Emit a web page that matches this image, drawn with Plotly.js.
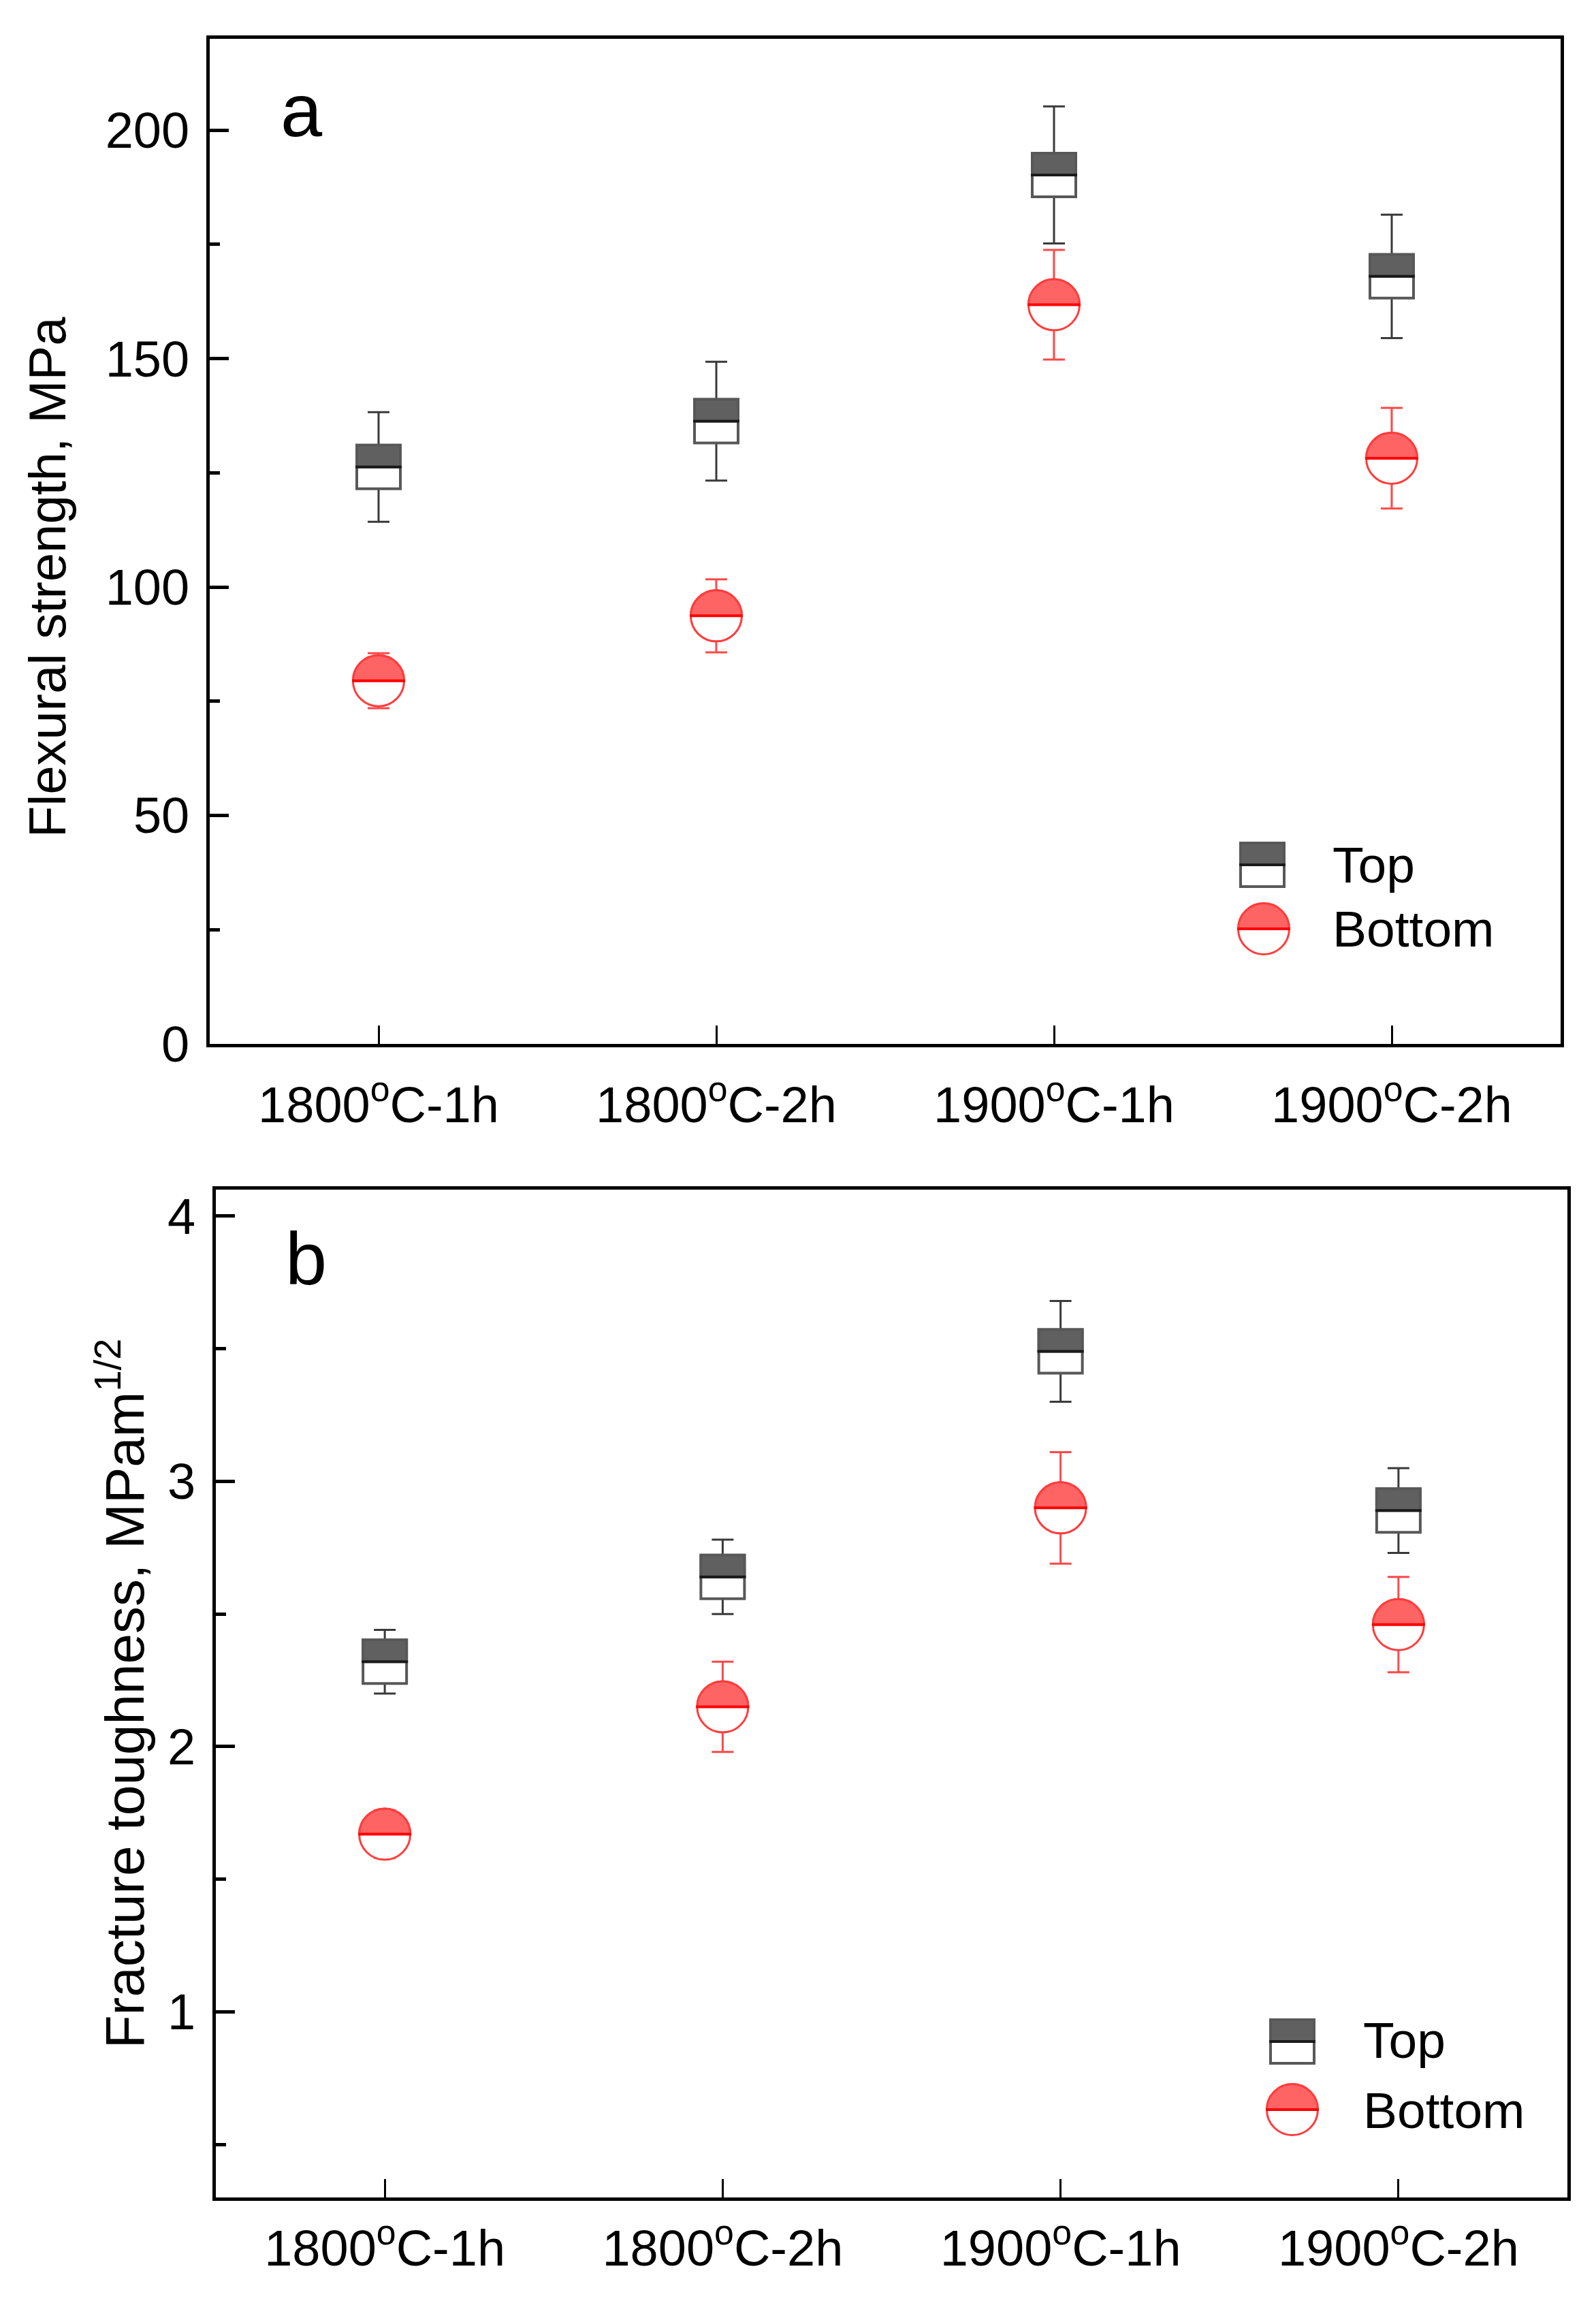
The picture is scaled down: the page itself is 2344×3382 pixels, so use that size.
<!DOCTYPE html>
<html><head><meta charset="utf-8">
<script src="https://cdn.plot.ly/plotly-3.0.1.min.js"></script>
<style>body{margin:0;background:#fff}</style>
</head><body><div id="chart" style="width:2344px;height:3382px"></div>
<script>
// ---- data ----
const categories = ['1800°C-1h', '1800°C-2h', '1900°C-1h', '1900°C-2h'];
const tickLabels = ['1800<sup>o</sup>C-1h', '1800<sup>o</sup>C-2h', '1900<sup>o</sup>C-1h', '1900<sup>o</sup>C-2h'];
const seriesNames = ['Top', 'Bottom'];
const yTitles = ['Flexural strength, MPa', 'Fracture toughness, MPam<sup>1/2</sup>'];
const strengthTop = [126.3, 136.3, 190.2, 168.0];
const strengthTopErr = [12, 13, 15, 13.5];
const strengthBottom = [79.5, 93.7, 161.8, 128.2];
const strengthBottomErr = [6, 8, 12, 11];
const toughTop = [2.32, 2.64, 3.49, 2.89];
const toughTopErr = [0.12, 0.14, 0.19, 0.16];
const toughBottom = [1.67, 2.15, 2.90, 2.46];
const toughBottomErr = [0.09, 0.17, 0.21, 0.18];

// ---- styles ----
const W = 2344, H = 3382;
const FONT = 'Liberation Sans, Arial, sans-serif';
const topFill = '#606060', topEdge = '#585858', topMid = '#1a1a1a', topErr = '#3a3a3a';
const botFill = '#ff6464', botEdge = '#ff3c3c', botMid = '#ff0000', botErr = '#ff4848';
const SQ = 64, CR = 37.5;

function upperHalf(R) {
  const k = 0.5523 * R;
  return `M ${-R},0 C ${-R},${k} ${-k},${R} 0,${R} C ${k},${R} ${R},${k} ${R},0 Z`;
}

function topTrace(vals, errs, xa, ya) {
  return {type: 'scatter', mode: 'markers', name: seriesNames[0], x: categories, y: vals, xaxis: xa, yaxis: ya,
    marker: {symbol: 'square', size: SQ, color: '#ffffff', line: {color: topEdge, width: 4}},
    error_y: {type: 'data', array: errs, visible: true, color: topErr, thickness: 3, width: 16},
    hoverinfo: 'x+y'};
}
function botTrace(vals, errs, xa, ya) {
  return {type: 'scatter', mode: 'markers', name: seriesNames[1], x: categories, y: vals, xaxis: xa, yaxis: ya,
    marker: {symbol: 'circle', size: 2 * CR, color: '#ffffff', line: {color: botEdge, width: 3}},
    error_y: {type: 'data', array: errs, visible: true, color: botErr, thickness: 3, width: 16},
    hoverinfo: 'x+y'};
}

function squareHalf(xref, yref, xa, ya, withBase) {
  const s = [];
  const base = {xref: xref, yref: yref, xsizemode: 'pixel', ysizemode: 'pixel', xanchor: xa, yanchor: ya, layer: 'above'};
  if (withBase) s.push(Object.assign({}, base, {type: 'rect', x0: -SQ/2, x1: SQ/2, y0: -SQ/2, y1: SQ/2, fillcolor: '#ffffff', line: {color: topEdge, width: 4}}));
  s.push(Object.assign({}, base, {type: 'rect', x0: -SQ/2, x1: SQ/2, y0: 0, y1: SQ/2, fillcolor: topFill, line: {color: topEdge, width: 4}}));
  s.push(Object.assign({}, base, {type: 'line', x0: -SQ/2 - 2, x1: SQ/2 + 2, y0: 0, y1: 0, line: {color: topMid, width: 4}}));
  return s;
}
function circleHalf(xref, yref, xa, ya, withBase) {
  const s = [];
  const base = {xref: xref, yref: yref, xsizemode: 'pixel', ysizemode: 'pixel', xanchor: xa, yanchor: ya, layer: 'above'};
  if (withBase) s.push(Object.assign({}, base, {type: 'circle', x0: -CR, x1: CR, y0: -CR, y1: CR, fillcolor: '#ffffff', line: {color: botEdge, width: 3}}));
  s.push(Object.assign({}, base, {type: 'path', path: upperHalf(CR), fillcolor: botFill, line: {color: botEdge, width: 3}}));
  s.push(Object.assign({}, base, {type: 'line', x0: -CR - 1.5, x1: CR + 1.5, y0: 0, y1: 0, line: {color: botMid, width: 4}}));
  return s;
}

const shapes = [];
categories.forEach((c, i) => {
  shapes.push(...squareHalf('x', 'y', i, strengthTop[i], false));
  shapes.push(...circleHalf('x', 'y', i, strengthBottom[i], false));
  shapes.push(...squareHalf('x2', 'y2', i, toughTop[i], false));
  shapes.push(...circleHalf('x2', 'y2', i, toughBottom[i], false));
});
// legend glyphs (paper coordinates)
shapes.push(...squareHalf('paper', 'paper', 1854 / W, 1 - 1270 / H, true));
shapes.push(...circleHalf('paper', 'paper', 1856 / W, 1 - 1364 / H, true));
shapes.push(...squareHalf('paper', 'paper', 1898 / W, 1 - 2998 / H, true));
shapes.push(...circleHalf('paper', 'paper', 1898 / W, 1 - 3098 / H, true));

const annotations = [
  {text: 'a', xref: 'paper', yref: 'paper', x: 410 / W, y: 1 - 225 / H, xanchor: 'left', yanchor: 'bottom', showarrow: false, font: {size: 110}},
  {text: 'b', xref: 'paper', yref: 'paper', x: 417 / W, y: 1 - 1911 / H, xanchor: 'left', yanchor: 'bottom', showarrow: false, font: {size: 110}},
  {text: yTitles[0], xref: 'paper', yref: 'paper', x: 69 / W, y: 1 - 848 / H, xanchor: 'center', yanchor: 'middle', textangle: -90, showarrow: false, font: {size: 76}},
  {text: seriesNames[0], xref: 'paper', yref: 'paper', x: 1955 / W, y: 1 - 1270 / H, xanchor: 'left', yanchor: 'middle', showarrow: false, font: {size: 75}},
  {text: seriesNames[1], xref: 'paper', yref: 'paper', x: 1955 / W, y: 1 - 1364 / H, xanchor: 'left', yanchor: 'middle', showarrow: false, font: {size: 75}},
  {text: seriesNames[0], xref: 'paper', yref: 'paper', x: 2000 / W, y: 1 - 2996 / H, xanchor: 'left', yanchor: 'middle', showarrow: false, font: {size: 75}},
  {text: seriesNames[1], xref: 'paper', yref: 'paper', x: 2000 / W, y: 1 - 3099 / H, xanchor: 'left', yanchor: 'middle', showarrow: false, font: {size: 75}}
];

function xAxis(domain, anchor, standoff) {
  return {domain: domain, anchor: anchor, type: 'category', range: [-0.5, 3.5],
    tickmode: 'array', tickvals: categories, ticktext: tickLabels,
    ticks: 'inside', ticklen: 27, tickwidth: 3, tickcolor: '#000',
    showline: true, linewidth: 5, linecolor: '#000', mirror: true,
    showgrid: false, zeroline: false, automargin: false, ticklabelstandoff: standoff,
    tickfont: {size: 74}};
}

const layout = {
  width: W, height: H, margin: {l: 0, r: 0, t: 0, b: 0},
  paper_bgcolor: '#ffffff', plot_bgcolor: '#ffffff', showlegend: false,
  font: {family: FONT, size: 74, color: '#000'},
  xaxis: xAxis([308 / W, 2292 / W], 'y', 21),
  yaxis: {domain: [1 - 1533 / H, 1 - 57 / H], anchor: 'x', range: [0, 220], tick0: 0, dtick: 50,
    ticks: 'inside', ticklen: 28, tickwidth: 5, tickcolor: '#000',
    minor: {dtick: 25, ticks: 'inside', ticklen: 15, tickwidth: 5, tickcolor: '#000', showgrid: false},
    showline: true, linewidth: 5, linecolor: '#000', mirror: true, showgrid: false, zeroline: false,
    automargin: false, ticklabelstandoff: 10, tickfont: {size: 74}},
  xaxis2: xAxis([317 / W, 2302 / W], 'y2', 6),
  yaxis2: {domain: [1 - 3227 / H, 1 - 1747 / H], anchor: 'x2', range: [0.3, 4.1], tick0: 0, dtick: 1,
    ticks: 'inside', ticklen: 28, tickwidth: 5, tickcolor: '#000',
    minor: {dtick: 0.5, ticks: 'inside', ticklen: 15, tickwidth: 5, tickcolor: '#000', showgrid: false},
    showline: true, linewidth: 5, linecolor: '#000', mirror: true, showgrid: false, zeroline: false,
    automargin: false, ticklabelstandoff: 10, tickfont: {size: 74},
    title: {text: yTitles[1], standoff: 10, font: {size: 80}}},
  shapes: shapes,
  annotations: annotations
};

const data = [
  topTrace(strengthTop, strengthTopErr, 'x', 'y'),
  botTrace(strengthBottom, strengthBottomErr, 'x', 'y'),
  topTrace(toughTop, toughTopErr, 'x2', 'y2'),
  botTrace(toughBottom, toughBottomErr, 'x2', 'y2')
];

Plotly.newPlot('chart', data, layout, {displayModeBar: false, staticPlot: true});
</script>
</body></html>
